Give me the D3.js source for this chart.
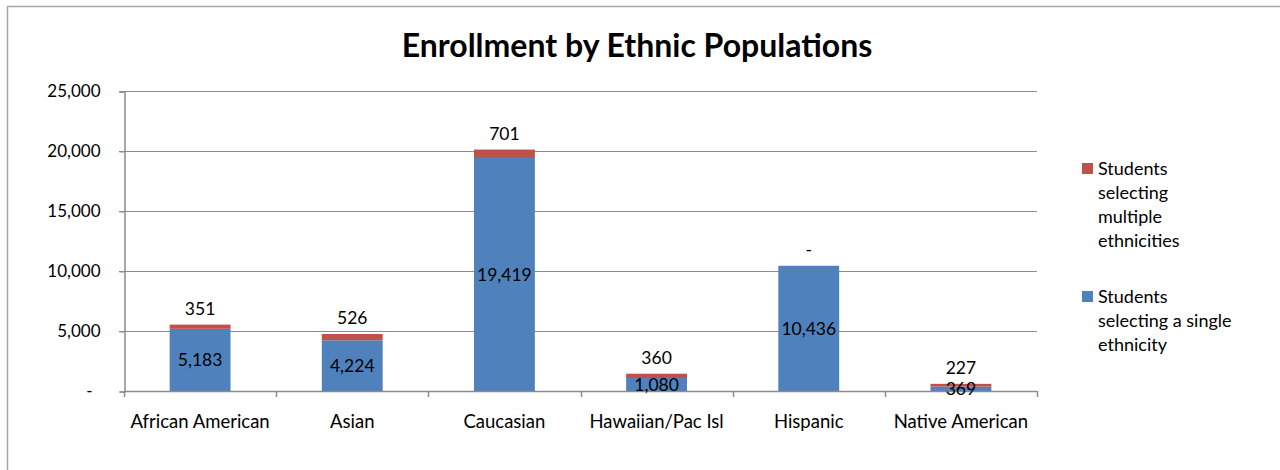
<!DOCTYPE html>
<html>
<head>
<meta charset="utf-8">
<script src="https://cdn.jsdelivr.net/npm/d3@7"></script>
<style>
  body { margin: 0; background: #fff; }
  text { font-family: Lato, "Open Sans", sans-serif; fill: #000; }
</style>
</head>
<body>
<div id="chart-area"></div>
<script>
// Data
var categories = ["African American", "Asian", "Caucasian", "Hawaiian/Pac Isl", "Hispanic", "Native American"];
var singleValues = [5183, 4224, 19419, 1080, 10436, 369];
var multipleValues = [351, 526, 701, 360, 0, 227];
var yTicks = [0, 5000, 10000, 15000, 20000, 25000];
var seriesNames = ["Students selecting a single ethnicity", "Students selecting multiple ethnicities"];
var legendLines = [["Students", "selecting a single", "ethnicity"], ["Students", "selecting", "multiple", "ethnicities"]];
var colors = ["#4F81BD", "#C0504D"];

var W = 1280, H = 470;
var plot = { left: 124, right: 1037, top: 91, bottom: 391 };

var svg = d3.select("#chart-area")
    .append("svg")
    .attr("width", W)
    .attr("height", H);

// chart area border
svg.append("rect")
    .attr("x", 7.5).attr("y", 6.5)
    .attr("width", W + 20).attr("height", H + 20)
    .attr("fill", "none")
    .attr("stroke", "#a6a6a6")
    .attr("stroke-width", 1.5);

// Title
svg.append("text")
    .attr("x", 637)
    .attr("y", 57)
    .attr("text-anchor", "middle")
    .attr("font-size", "32px")
    .attr("font-weight", "bold")
    .text("Enrollment by Ethnic Populations");

// Scales
var x = d3.scaleBand()
    .domain(categories)
    .range([plot.left, plot.right])
    .paddingInner(0.6)
    .paddingOuter(0.3);

var y = d3.scaleLinear()
    .domain([0, 25000])
    .range([plot.bottom, plot.top]);

var fmt = d3.format(",");

// Gridlines
svg.append("g")
    .selectAll("line")
    .data(yTicks.filter(function(d){ return d > 0; }))
    .enter().append("line")
    .attr("x1", plot.left - 5)
    .attr("x2", plot.right)
    .attr("y1", function(d){ return Math.round(y(d)) + 0.5; })
    .attr("y2", function(d){ return Math.round(y(d)) + 0.5; })
    .attr("stroke", "#8c8c8c")
    .attr("stroke-width", 1);

// Y Axis
var yAxisCall = d3.axisLeft(y)
    .tickValues(yTicks)
    .tickSize(5)
    .tickPadding(19)
    .tickFormat(function(d){ return d === 0 ? "-" : fmt(d); });

var yAxisGroup = svg.append("g")
    .attr("transform", "translate(" + (plot.left + 0.5) + ",0.5)")
    .call(yAxisCall);

yAxisGroup.select(".domain").attr("stroke", "#8c8c8c").attr("stroke-width", 1.5);
yAxisGroup.selectAll(".tick line").attr("stroke", "#8c8c8c");
yAxisGroup.selectAll(".tick text")
    .attr("font-size", "17px")
    .attr("font-family", "Lato, sans-serif")
    .attr("fill", "#000")
    .attr("dx", function(d){ return d === 0 ? -8 : 0; });

// Stack the two series
var rows = categories.map(function(c, i){
    return { category: c, single: singleValues[i], multiple: multipleValues[i] };
});
var stacked = d3.stack().keys(["single", "multiple"])(rows);

var layers = svg.append("g")
    .selectAll("g")
    .data(stacked)
    .enter().append("g")
    .attr("fill", function(d, i){ return colors[i]; });

layers.selectAll("rect")
    .data(function(d){ return d; })
    .enter().append("rect")
    .attr("x", function(d){ return x(d.data.category); })
    .attr("width", x.bandwidth())
    .attr("y", function(d){ return y(d[1]); })
    .attr("height", function(d){ return y(d[0]) - y(d[1]); });

// X Axis line and boundary ticks
var xAxisG = svg.append("g");
xAxisG.append("line")
    .attr("x1", plot.left)
    .attr("x2", plot.right)
    .attr("y1", plot.bottom + 0.5)
    .attr("y2", plot.bottom + 0.5)
    .attr("stroke", "#8c8c8c")
    .attr("stroke-width", 1.5);

var gap = (x.step() - x.bandwidth()) / 2;
var boundaries = categories.map(function(c){ return x(c) - gap; }).concat([plot.right]);
xAxisG.selectAll(".bt")
    .data(boundaries)
    .enter().append("line")
    .attr("class", "bt")
    .attr("x1", function(d){ return Math.round(d) + 0.5; })
    .attr("x2", function(d){ return Math.round(d) + 0.5; })
    .attr("y1", plot.bottom)
    .attr("y2", plot.bottom + 6)
    .attr("stroke", "#8c8c8c")
    .attr("stroke-width", 1.5);

xAxisG.selectAll(".cat")
    .data(categories)
    .enter().append("text")
    .attr("class", "cat")
    .attr("x", function(d){ return x(d) + x.bandwidth() / 2; })
    .attr("y", plot.bottom + 37)
    .attr("text-anchor", "middle")
    .attr("font-size", "18.5px")
    .text(function(d){ return d; });

// Data labels: single values centred in the blue segment
svg.append("g")
    .selectAll("text")
    .data(stacked[0])
    .enter().append("text")
    .attr("x", function(d){ return x(d.data.category) + x.bandwidth() / 2; })
    .attr("y", function(d){ return (y(d[0]) + y(d[1])) / 2; })
    .attr("dy", "0.36em")
    .attr("text-anchor", "middle")
    .attr("font-size", "17.5px")
    .text(function(d){ return fmt(d.data.single); });

// multiple values above the bar
svg.append("g")
    .selectAll("text")
    .data(stacked[1])
    .enter().append("text")
    .attr("x", function(d){ return x(d.data.category) + x.bandwidth() / 2; })
    .attr("y", function(d){ return y(d[1]) - 16; })
    .attr("dy", "0.36em")
    .attr("text-anchor", "middle")
    .attr("font-size", "17.5px")
    .text(function(d){ return d.data.multiple === 0 ? "-" : fmt(d.data.multiple); });

// Legend (multiple first, like the reference)
var legendTops = [291, 163];
var legend = svg.append("g");
[1, 0].forEach(function(s){
    var lg = legend.append("g")
        .attr("transform", "translate(1082," + legendTops[s] + ")");
    lg.append("rect")
        .attr("width", 11).attr("height", 11)
        .attr("fill", colors[s]);
    lg.append("text")
        .attr("font-size", "18px")
        .selectAll("tspan")
        .data(legendLines[s])
        .enter().append("tspan")
        .attr("x", 16)
        .attr("y", function(d, i){ return 12 + i * 24; })
        .text(function(d){ return d; });
});
</script>
</body>
</html>
